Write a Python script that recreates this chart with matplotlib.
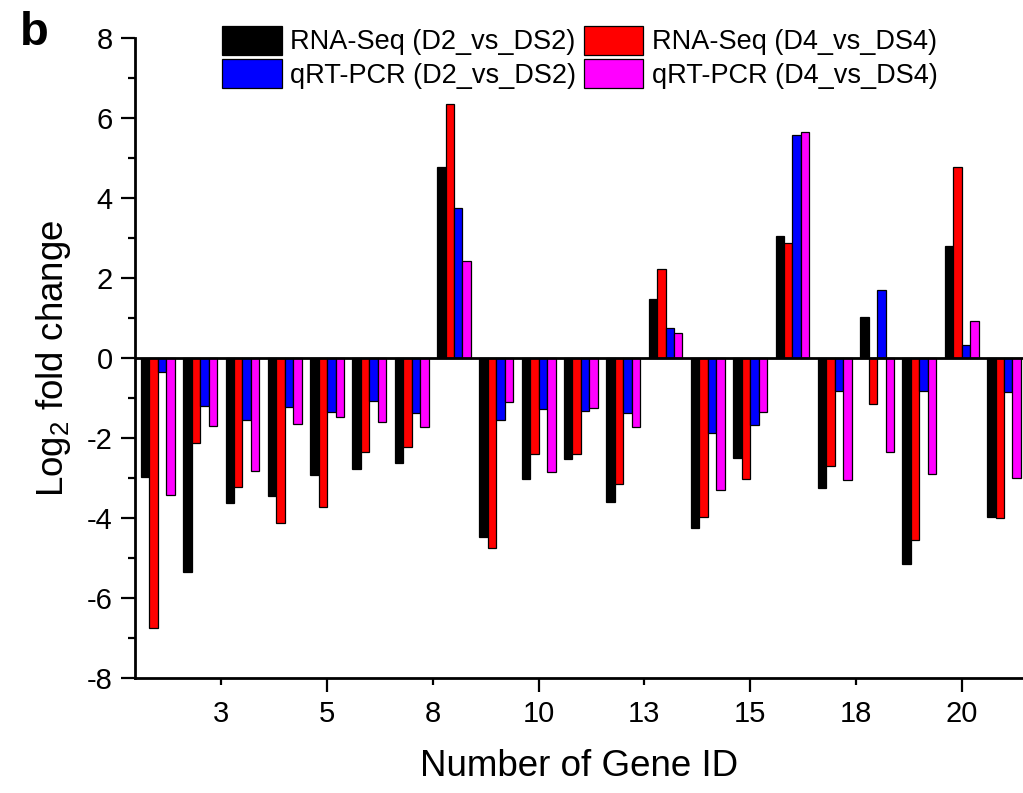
import numpy as np
import matplotlib
matplotlib.use('Agg')
import matplotlib.pyplot as plt
from matplotlib.ticker import FixedLocator, FixedFormatter

plt.rcParams['font.family'] = ['Liberation Sans', 'DejaVu Sans']
plt.rcParams['mathtext.default'] = 'regular'
plt.rcParams['axes.unicode_minus'] = False

###########################################################

genes = np.arange(1, 22)

rna_d2 = [-2.97, -5.34, -3.62, -3.45, -2.93, -2.78, -2.63, 4.78, -4.47, -3.03, -2.53,
          -3.59, 1.48, -4.24, -2.50, 3.06, -3.24, 1.02, -5.15, 2.80, -3.97]
rna_d4 = [-6.74, -2.12, -3.22, -4.13, -3.72, -2.34, -2.23, 6.35, -4.74, -2.40, -2.40,
          -3.16, 2.23, -3.97, -3.02, 2.87, -2.70, -1.14, -4.55, 4.77, -4.01]
qpcr_d2 = [-0.36, -1.20, -1.55, -1.22, -1.36, -1.07, -1.38, 3.74, -1.55, -1.28, -1.32,
           -1.37, 0.74, -1.88, -1.68, 5.58, -0.83, 1.69, -0.83, 0.32, -0.84]
qpcr_d4 = [-3.43, -1.70, -2.83, -1.66, -1.47, -1.61, -1.72, 2.42, -1.09, -2.84, -1.24,
           -1.72, 0.62, -3.29, -1.35, 5.64, -3.04, -2.35, -2.89, 0.93, -2.99]

series_names = ['RNA-Seq (D2_vs_DS2)', 'RNA-Seq (D4_vs_DS4)',
                'qRT-PCR (D2_vs_DS2)', 'qRT-PCR (D4_vs_DS4)']
series_colors = ['black', 'red', 'blue', 'magenta']

# origin style axis: labels on major and minor ticks (minor ones rounded)
major_ticks = [5, 10, 15, 20]
major_labels = ['5', '10', '15', '20']
minor_ticks = [2.5, 7.5, 12.5, 17.5]
minor_labels = ['3', '8', '13', '18']

###########################################################

fig = plt.figure(figsize=(10.23, 7.93), dpi=100)
ax = fig.add_axes([0.132, 0.145, 0.868, 0.807])

w = 0.2
offsets = [-0.3, -0.1, 0.1, 0.3]
handles = []
for vals, off, col, name in zip([rna_d2, rna_d4, qpcr_d2, qpcr_d4], offsets, series_colors, series_names):
    b = ax.bar(genes + off, vals, width=w, color=col, edgecolor='black', linewidth=0.9, label=name, zorder=2)
    handles.append(b)

ax.axhline(0, color='black', lw=2, zorder=3)

ax.set_xlim(0.46, 21.45)
ax.set_ylim(-8, 8)
ax.set_yticks(np.arange(-8, 9, 2))
ax.yaxis.set_minor_locator(FixedLocator(np.arange(-7, 8, 2)))
ax.xaxis.set_major_locator(FixedLocator(major_ticks))
ax.set_xticklabels(major_labels)
ax.xaxis.set_minor_locator(FixedLocator(minor_ticks))
ax.xaxis.set_minor_formatter(FixedFormatter(minor_labels))

for s in ['top', 'right']:
    ax.spines[s].set_visible(False)
for s in ['left', 'bottom']:
    ax.spines[s].set_linewidth(2)

ax.tick_params(which='major', length=10, width=1.6, labelsize=21, pad=6)
ax.tick_params(which='minor', length=5, width=1.6, labelsize=21, pad=6)
ax.tick_params(axis='x', which='minor', pad=11)

ax.set_xlabel('Number of Gene ID', fontsize=26.5, labelpad=15)
ax.set_ylabel('Log$_2$ fold change', fontsize=26.5, labelpad=10)

# legend in 2x2 order
order = [0, 2, 1, 3]
ax.legend([handles[i] for i in order], [series_names[i] for i in order], ncol=2,
          loc='upper left', bbox_to_anchor=(222 / 1023, 1 - 26 / 793), bbox_transform=fig.transFigure,
          frameon=False, fontsize=19.5, borderpad=0, handlelength=2.2, handleheight=1.25,
          handletextpad=0.3, columnspacing=0.3, labelspacing=0.15, borderaxespad=0)

fig.text(20 / 1023, 1 - 45 / 793, 'b', fontsize=34, fontweight='bold')

fig.savefig('out.png', dpi=100)
